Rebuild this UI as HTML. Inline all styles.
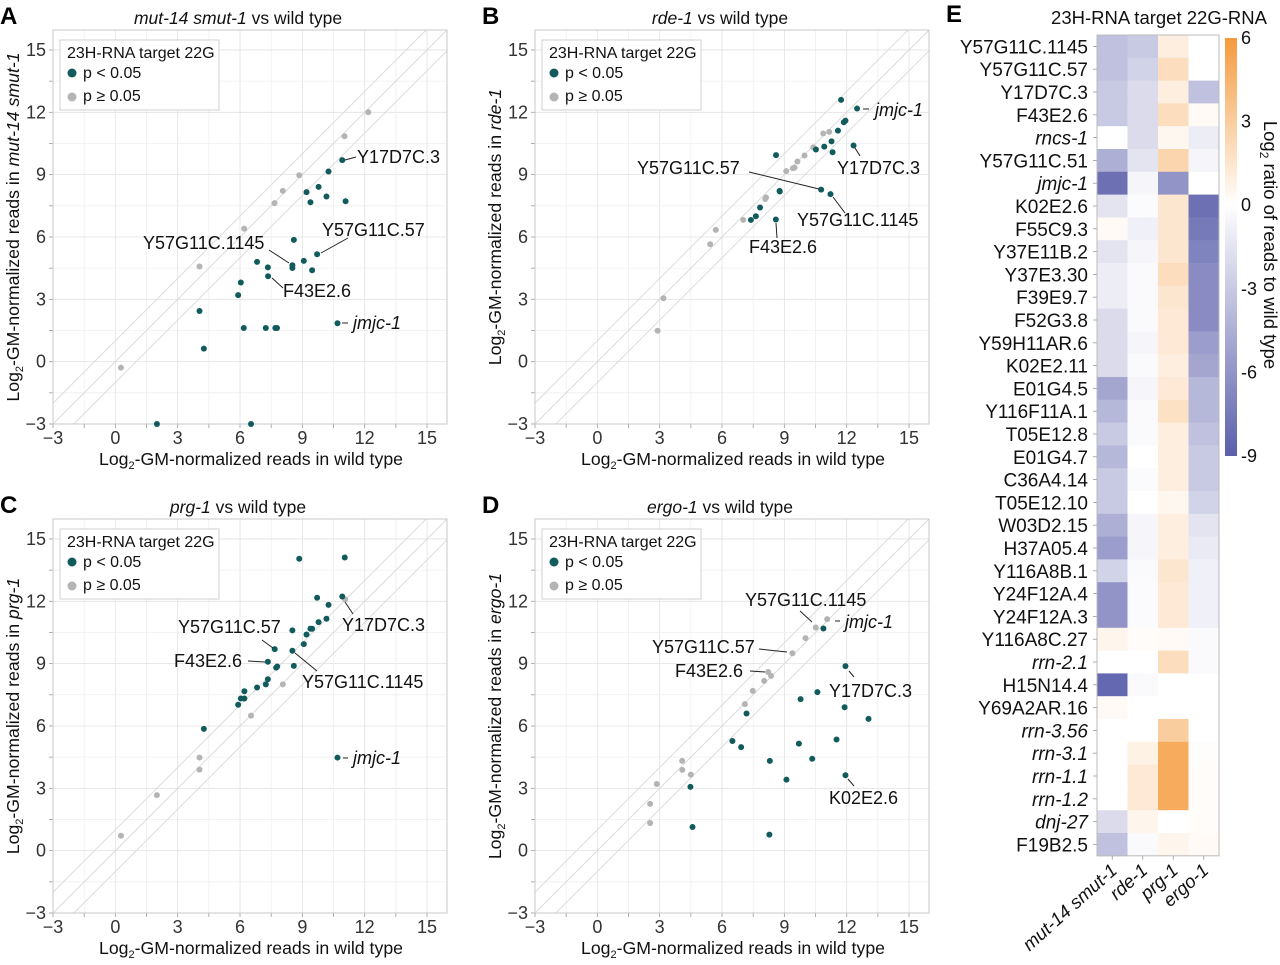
<!DOCTYPE html>
<html><head><meta charset="utf-8"><style>
body{margin:0;background:#fff}
svg{display:block;font-family:"Liberation Sans",Arial,sans-serif}
</style></head><body>
<svg id="fig" width="1280" height="965" viewBox="0 0 1280 965"></svg>
<script>
// ---------- DATA ----------
const panelTitles = ["mut-14 smut-1","rde-1","prg-1","ergo-1"];
const panelLetters = ["A","B","C","D"];
const axisTicks = [-3,0,3,6,9,12,15];
// Panel A
const aGrayX=[0.27,4.05,6.2,7.66,8.06,8.85,11.03,12.17];
const aGrayY=[-0.29,4.58,6.4,7.63,8.22,8.97,10.85,12.0];
const aSigX=[10.92,10.26,9.78,9.2,9.39,10.16,11.08,8.59,9.71,9.07,8.52,8.52,9.47,6.82,7.34,7.35,6.04,5.91,4.05,6.18,7.24,7.7,7.78,10.69,4.26,2.0,6.53];
const aSigY=[9.7,9.15,8.41,8.16,7.67,7.95,7.72,5.86,5.17,4.85,4.64,4.51,4.4,4.8,4.54,4.11,3.81,3.2,2.44,1.62,1.62,1.62,1.62,1.85,0.63,-3,-3];
// Panel B
const bGrayX=[2.9,3.18,5.43,5.7,7.02,8.08,8.12,9.09,9.41,9.49,9.63,9.97,10.39,10.87,11.16];
const bGrayY=[1.49,3.05,5.65,6.34,6.82,7.83,7.9,9.17,9.31,9.34,9.63,9.92,10.31,10.98,11.06];
const bSigX=[11.73,12.5,11.86,11.94,11.58,11.27,10.92,10.52,11.32,12.33,8.6,8.77,8.78,10.77,11.22,7.83,7.63,7.39,8.59];
const bSigY=[12.6,12.18,11.52,11.6,11.12,10.6,10.35,10.21,10.08,10.4,9.94,8.22,8.19,8.28,8.06,7.42,7.0,6.82,6.84];
// Panel C
const cGrayX=[0.27,2.0,4.05,4.05,6.53,8.06,11.06];
const cGrayY=[0.72,2.67,4.48,3.9,6.5,8.0,12.09];
const cSigX=[8.85,11.04,10.92,9.71,10.26,10.16,9.78,9.47,9.39,9.2,8.52,9.07,7.67,8.52,7.34,7.74,7.79,8.59,7.34,7.24,6.82,6.21,6.04,6.21,5.91,4.26,10.69];
const cSigY=[14.05,14.11,12.23,12.17,11.83,11.16,11.0,10.68,10.68,10.4,10.6,9.94,9.7,9.62,9.09,8.81,8.86,8.89,8.25,8.0,7.85,7.67,7.32,7.32,7.02,5.86,4.48];
// Panel D
const dGrayX=[2.54,2.54,2.86,4.09,4.08,4.5,7.1,7.48,8.03,8.22,8.36,9.39,10.02,10.51,11.06];
const dGrayY=[1.33,2.25,3.21,3.89,4.32,3.66,7.05,7.69,8.17,8.6,8.41,9.5,10.23,10.74,11.14];
const dSigX=[10.88,11.94,10.59,9.78,7.18,11.9,13.05,11.51,9.7,6.5,6.92,10.34,8.3,9.1,11.94,4.48,4.58,8.28];
const dSigY=[10.69,8.88,7.63,7.29,6.6,6.9,6.34,5.35,5.15,5.28,4.98,4.42,4.32,3.42,3.63,3.07,1.14,0.77];
// Heatmap
const genes=["Y57G11C.1145","Y57G11C.57","Y17D7C.3","F43E2.6","rncs-1","Y57G11C.51","jmjc-1","K02E2.6","F55C9.3","Y37E11B.2","Y37E3.30","F39E9.7","F52G3.8","Y59H11AR.6","K02E2.11","E01G4.5","Y116F11A.1","T05E12.8","E01G4.7","C36A4.14","T05E12.10","W03D2.15","H37A05.4","Y116A8B.1","Y24F12A.4","Y24F12A.3","Y116A8C.27","rrn-2.1","H15N14.4","Y69A2AR.16","rrn-3.56","rrn-3.1","rrn-1.1","rrn-1.2","dnj-27","F19B2.5"];
const italicGenes=["rncs-1","jmjc-1","rrn-2.1","rrn-3.56","rrn-3.1","rrn-1.1","rrn-1.2","dnj-27"];
const hmCols=["mut-14 smut-1","rde-1","prg-1","ergo-1"];
const valMut=[-3.5,-3.5,-3,-3,0,-4.5,-8,-1.5,0.3,-1.5,-1,-1,-2,-2,-2,-5,-4,-3,-4,-3,-3,-4.5,-5.5,-2.5,-6,-6,0.6,0,-8.5,0.3,0,0,0,0,-2,-3.5];
const valRde=[-3,-2.5,-2,-2,-2,-1.5,-0.5,-0.2,-0.8,-0.5,-0.3,-0.3,-0.3,-0.5,-0.3,-0.5,-0.3,-0.3,0,-0.2,0,-0.5,-0.5,-0.3,-0.2,-0.2,0.2,0,-0.3,0,0,0.8,1.3,1.3,0.6,-0.3];
const valPrg=[1,2,1,2,0.5,2.5,-6,1.5,1.5,1.5,2,1.5,1.3,1.3,1,1.3,1.8,1,1,1,0.5,1,1,1.5,1.3,1.3,0.3,2,0,0,3,5,5,5,0,0.6];
const valErgo=[0,0,-3.5,0.3,-1,-0.5,0,-8,-7.5,-7,-6.5,-6.5,-6.5,-5.5,-5,-4,-4,-3.5,-3,-3,-2.5,-1.5,-1.2,-0.8,-0.8,-0.8,-0.3,-0.3,0,0,0,0.1,0.2,0.2,0.2,0.3];
const cbTicks=[6,3,0,-3,-6,-9];

// ---------- DRAW ----------
const NS="http://www.w3.org/2000/svg";
const svg=document.getElementById('fig');
function mk(tag,attrs,parent){const e=document.createElementNS(NS,tag);for(const k in attrs)e.setAttribute(k,attrs[k]);(parent||svg).appendChild(e);return e;}
function txt(s,attrs,parent){const e=mk('text',attrs,parent);e.textContent=s;return e;}

const panelOff=[[0,0],[482,0],[0,489],[482,489]];
const grayX=[aGrayX,bGrayX,cGrayX,dGrayX], grayY=[aGrayY,bGrayY,cGrayY,dGrayY];
const sigX=[aSigX,bSigX,cSigX,dSigX], sigY=[aSigY,bSigY,cSigY,dSigY];
const labelSets=[
 [["Y17D7C.3",0,357,163,345,160,356,157],["Y57G11C.57",0,322,236,321,253,348,238],["Y57G11C.1145",0,143,249,269,250,289,263],["F43E2.6",0,283,297,272,278,283,288],["jmjc-1",1,353,329,342,323,348,323]],
 [["jmjc-1",1,393,116,381,109,387,109],["Y17D7C.3",0,355,174,373,148,378,156],["Y57G11C.57",0,155,174,267,172,337,189],["Y57G11C.1145",0,315,226,351,197,363,213],["F43E2.6",0,267,253,294,223,295,238]],
 [["Y57G11C.57",0,178,144,262,151,273,159],["F43E2.6",0,174,178,248,172,265,173],["Y57G11C.1145",0,302,199,295,164,317,182],["Y17D7C.3",0,342,142,345,113,353,125],["jmjc-1",1,353,275,343,269,348,269]],
 [["Y57G11C.1145",0,263,117,318,122,330,133],["jmjc-1",1,363,139,353,132,358,132],["Y57G11C.57",0,170,164,277,160,305,163],["F43E2.6",0,193,188,268,182,283,183],["Y17D7C.3",0,347,208,367,182,372,188],["K02E2.6",0,347,315,366,290,372,297]]
];
const L=53,R=447,T=30,B=424,U=20.78;

panelOff.forEach((off,p)=>{
  const ox=off[0], oy=off[1];
  const g=mk('g',{transform:`translate(${ox},${oy})`});
  
  
  const sx=v=>L+(v+3)*U, sy=v=>B-(v+3)*U;
  const cid='clip'+p;
  const cp=mk('clipPath',{id:cid},g); mk('rect',{x:L,y:T,width:R-L,height:B-T},cp);
  for(let v=-3;v<=16;v+=1.5){
    const major=Math.abs(v%3)<1e-6;
    const c=major?'#e2e2e2':'#efefef';
    mk('line',{x1:sx(v),x2:sx(v),y1:T,y2:B,stroke:c,'stroke-width':0.8},g);
    mk('line',{x1:L,x2:R,y1:sy(v),y2:sy(v),stroke:c,'stroke-width':0.8},g);
    mk('line',{x1:sx(v),x2:sx(v),y1:B,y2:B+4,stroke:'#999','stroke-width':0.8},g);
    mk('line',{x1:L-4,x2:L,y1:sy(v),y2:sy(v),stroke:'#999','stroke-width':0.8},g);
  }
  [-1,0,1].forEach(o=>{
    const d=mk('line',{x1:sx(-3),y1:sy(-3+o),x2:sx(16),y2:sy(16+o),stroke:'#dcdcdc','stroke-width':1,'clip-path':`url(#${cid})`},g);
    
    
  });
  const box=mk('rect',{x:L,y:T,width:R-L,height:B-T,fill:'none',stroke:'#c8c8c8','stroke-width':1},g);
  
  
  axisTicks.forEach(t=>{
    const xl=txt(t<0?'\u2212'+(-t):String(t),{x:sx(t),y:B+20,'font-size':18,'text-anchor':'middle',fill:'#333'},g);
    
    
    const yl=txt(t<0?'\u2212'+(-t):String(t),{x:L-7,y:sy(t)+6,'font-size':18,'text-anchor':'end',fill:'#333'},g);
    
    
  });
  const xt=mk('text',{x:251,y:465,'font-size':17.7,'text-anchor':'middle',fill:'#111'},g);
  xt.innerHTML='Log<tspan font-size="11" dy="4">2</tspan><tspan dy="-4">-GM-normalized reads in wild type</tspan>';
  
  
  const yt=mk('text',{transform:'translate(19,227) rotate(-90)','font-size':17.7,'text-anchor':'middle',fill:'#111'},g);
  yt.innerHTML='Log<tspan font-size="11" dy="4">2</tspan><tspan dy="-4">-GM-normalized reads in </tspan><tspan font-style="italic">'+panelTitles[p]+'</tspan>';
  
  
  const tt=mk('text',{x:238,y:24,'font-size':17.5,'text-anchor':'middle',fill:'#111'},g);
  tt.innerHTML='<tspan font-style="italic">'+panelTitles[p]+'</tspan> vs wild type';
  
  
  const pl=txt(panelLetters[p],{x:0,y:24,'font-size':24,'font-weight':'bold',fill:'#000'},g);
  
  
  grayX[p].forEach((v,i)=>{
    const c=mk('circle',{cx:sx(v),cy:sy(grayY[p][i]),r:3,fill:'#b4b4b4'},g);
    
    
  });
  sigX[p].forEach((v,i)=>{
    const c=mk('circle',{cx:sx(v),cy:sy(sigY[p][i]),r:3,fill:'#125b5d'},g);
    
    
  });
  const lg=mk('g',{},g);
  
  
  mk('rect',{x:60,y:40,width:159,height:70,fill:'#fff',stroke:'#d0d0d0','stroke-width':1},lg);
  txt('23H-RNA target 22G',{x:67,y:58,'font-size':16,fill:'#111'},lg);
  mk('circle',{cx:72,cy:73,r:4.5,fill:'#125b5d'},lg);
  txt('p < 0.05',{x:83,y:78,'font-size':16,fill:'#111'},lg);
  mk('circle',{cx:72,cy:97,r:4.5,fill:'#b4b4b4'},lg);
  txt('p \u2265 0.05',{x:83,y:101,'font-size':16,fill:'#111'},lg);
  labelSets[p].forEach(l=>{
    mk('line',{x1:l[4],y1:l[5],x2:l[6],y2:l[7],stroke:'#222','stroke-width':1},g);
    const t=txt(l[0],{x:l[2],y:l[3],'font-size':18,fill:'#111','font-style':l[1]?'italic':'normal'},g);
    
    
  });
});

// ---------- HEATMAP ----------
const hm=mk('g',{});


const hx0=1097, cw=30.5, hy0=35, rh=22.8;
function col(v){
  const lo=[91,95,171], hi=[245,154,61];
  let t,c;
  if(v<0){t=Math.min(1,-v/9);c=lo;}else{t=Math.min(1,v/6);c=hi;}
  const r=Math.round(255+(c[0]-255)*t),g=Math.round(255+(c[1]-255)*t),b=Math.round(255+(c[2]-255)*t);
  return `rgb(${r},${g},${b})`;
}
const vals=[valMut,valRde,valPrg,valErgo];
genes.forEach((gname,i)=>{
  vals.forEach((arr,j)=>{
    const r=mk('rect',{x:hx0+j*cw,y:hy0+i*rh,width:cw+0.5,height:rh+0.5,fill:col(arr[i])},hm);
    
    
  });
  const t=txt(gname,{x:1088,y:hy0+i*rh+rh/2+7,'font-size':19,'text-anchor':'end',fill:'#111','font-style':italicGenes.includes(gname)?'italic':'normal'},hm);
  
  
  mk('line',{x1:1093,x2:1097,y1:hy0+i*rh+rh/2,y2:hy0+i*rh+rh/2,stroke:'#999','stroke-width':0.8},hm);
});
mk('rect',{x:hx0,y:hy0,width:cw*4,height:rh*genes.length,fill:'none',stroke:'#bbb','stroke-width':1},hm);
hmCols.forEach((c,j)=>{
  const cx=hx0+j*cw+cw/2;
  mk('line',{x1:cx,x2:cx,y1:hy0+rh*genes.length,y2:hy0+rh*genes.length+4,stroke:'#999','stroke-width':0.8},hm);
  const t=txt(c,{transform:`translate(${cx+6},${872}) rotate(-42)`,'font-size':18.5,'text-anchor':'end','font-style':'italic',fill:'#111'},hm);
  
  
});
const ht=txt('23H-RNA target 22G-RNA',{x:1159,y:24,'font-size':18.5,'text-anchor':'middle',fill:'#111'},hm);


const he=txt('E',{x:946,y:22,'font-size':24,'font-weight':'bold',fill:'#000'},hm);


const defs=mk('defs',{});
const grad=mk('linearGradient',{id:'cbg',x1:0,y1:0,x2:0,y2:1},defs);
[[0,6],[0.4,0],[1,-9]].forEach(s=>mk('stop',{offset:s[0],'stop-color':col(s[1])},grad));
const cbTop=38, cbBot=456, cbMax=6, cbMin=-9;
const cby=v=>cbTop+(cbMax-v)/(cbMax-cbMin)*(cbBot-cbTop);
const cb=mk('rect',{x:1225,y:cbTop,width:12,height:cbBot-cbTop,fill:'url(#cbg)'},hm);


cbTicks.forEach(v=>{
  const t=txt(String(v),{x:1241,y:cby(v)+6,'font-size':18,fill:'#111'},hm);
  
  
});
const cbt=mk('text',{transform:'translate(1264,245) rotate(90)','font-size':18.5,'text-anchor':'middle',fill:'#111'},hm);
cbt.innerHTML='Log<tspan font-size="12" dy="4">2</tspan><tspan dy="-4"> ratio of reads to wild type</tspan>';


</script>
</body></html>
